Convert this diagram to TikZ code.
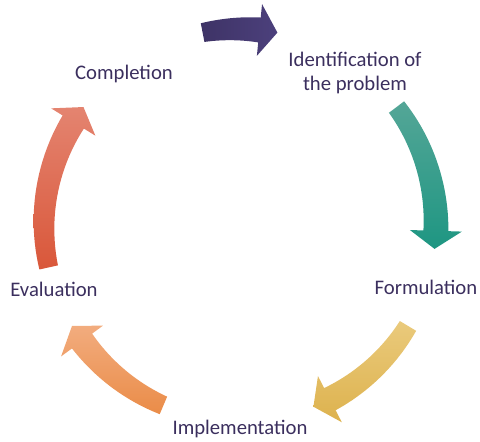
\documentclass[tikz,border=0pt]{standalone}
\usepackage{fontspec}
\setmainfont{Carlito}
\definecolor{txt}{RGB}{59,47,94}
\definecolor{purA}{RGB}{62,51,102}
\definecolor{purB}{RGB}{76,64,124}
\definecolor{tealA}{RGB}{84,166,151}
\definecolor{tealB}{RGB}{30,150,130}
\definecolor{yelA}{RGB}{234,202,124}
\definecolor{yelB}{RGB}{221,178,78}
\definecolor{orA}{RGB}{242,172,126}
\definecolor{orB}{RGB}{234,140,72}
\definecolor{redA}{RGB}{228,132,112}
\definecolor{redB}{RGB}{217,87,58}
\tikzset{
  lbl/.style={text=txt, inner sep=0pt, font=\fontsize{20.7}{23.5}\selectfont, align=center},
}
% #1 tail angle, #2 tip angle (clockwise => #1 > #2), #3 shading options
\newcommand{\cyclearrow}[3]{%
  \pgfmathsetmacro{\ab}{#2+5.3}%
  \path[#3] plot[domain=#1:\ab, samples=24] (\x:{196+(19+6*((#1)-\x)/((#1)-\ab))/2})
    -- (\ab:222) -- (#2:196) -- (\ab:170)
    -- plot[domain=\ab:#1, samples=24] (\x:{196-(19+6*((#1)-\x)/((#1)-\ab))/2})
    -- cycle;%
}
\begin{document}
\begin{tikzpicture}[x=1pt,y=1pt]
\useasboundingbox (0,0) rectangle (480,442);
\coordinate (C) at (240,217);
\begin{scope}[shift={(C)}]
  \cyclearrow{101}{79}{left color=purA, right color=purB}
  \cyclearrow{37}{-7}{top color=tealA, bottom color=tealB}
  \cyclearrow{-31}{-68}{top color=yelA, bottom color=yelB}
  \cyclearrow{247}{211}{top color=orA, bottom color=orB}
  \cyclearrow{192.5}{143}{top color=redA, bottom color=redB}
\end{scope}
\node[lbl, anchor=base] (compl) at (124,362) {Completion};
\node[lbl, anchor=center] (ident) at (355,369) {Identification of\\the problem};
\node[lbl, anchor=base] (form) at (426,147) {Formulation};
\node[lbl, anchor=base] (impl) at (240,7) {Implementation};
\node[lbl, anchor=base] (eval) at (54,145) {Evaluation};
\end{tikzpicture}
\end{document}
